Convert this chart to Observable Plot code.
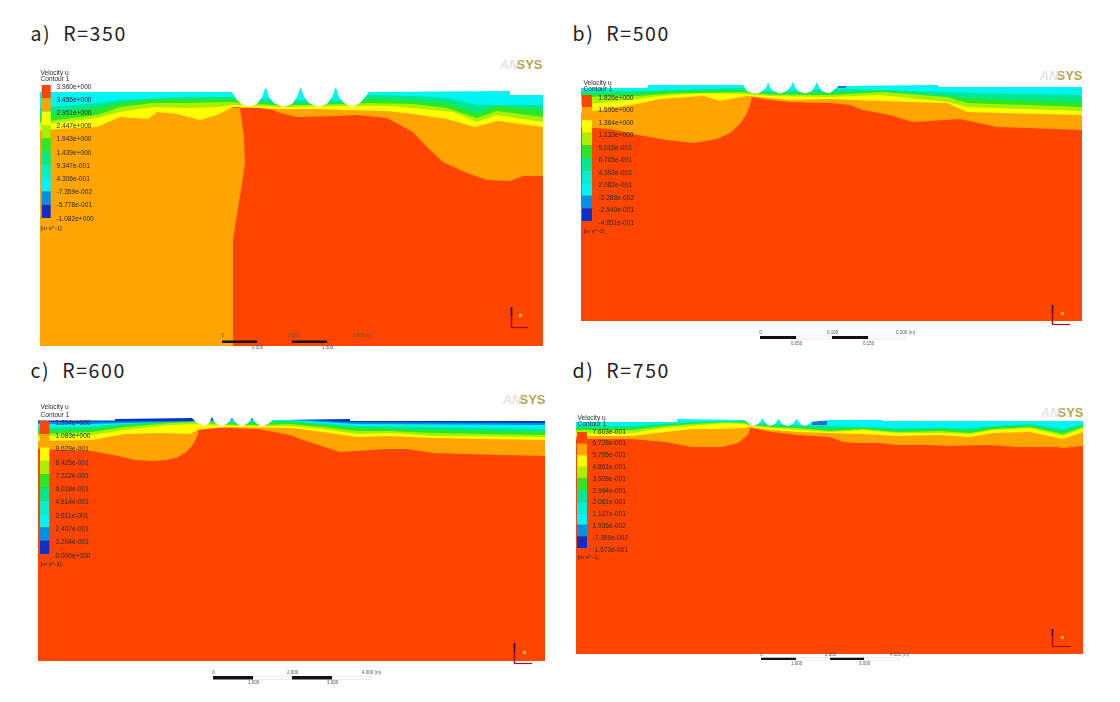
<!DOCTYPE html>
<html><head><meta charset="utf-8">
<script src="https://cdn.jsdelivr.net/npm/d3@7"></script>
<script src="https://cdn.jsdelivr.net/npm/@observablehq/plot@0.6"></script>
<style>
html,body{margin:0;padding:0;background:#fff;overflow:hidden}
svg{display:block}
g.field{filter:blur(.7px)}
g.legendtext{filter:blur(.45px)}
g.logotext{filter:blur(.7px)}
g.faint{filter:blur(.5px)}
g.instrument{filter:blur(.5px)}
g.ptitle{letter-spacing:1.6px}
</style></head><body><div id="chart"></div>
<script>
const RED="#ff4500",ORANGE="#ffa500",YELLOW="#ffff00",YG="#a8f000",GREEN="#28e828",SPRING="#00e890",AQUA="#00f0d0",CYAN="#00f4f4",BLUE="#0090e8",DARK="#0a30c8";
const binColors=[RED,ORANGE,YELLOW,YG,GREEN,SPRING,AQUA,CYAN,BLUE,DARK];

// ---- panel a) R=350 : contour boundaries
const aSurface=[[40,92],[232,92],[237,100],[243,105],[250,106.5],[257,104],[262,97],[265.7,87],[269,97],[274,103],[283,107],[292,104],[297,97],[300.7,87],[304,97],[309,103],[318,107],[327,104],[332,97],[335.7,87],[339,97],[344,103],[352,107],[360,103],[365,97],[369,92],[510,91],[510,95],[543,95]];
const aRedTop=[[240,108],[253,107],[273,110],[280,113],[297,117],[340,116],[357,115],[387,118],[413,132],[427,147],[443,162],[467,173],[487,180],[510,181],[523,176],[543,176]];
const aOrangeEdge=[[240,108],[244,137],[245,163],[241,190],[236,220],[233,240],[233,346]];
const aOrangeTop=[[40,130],[97,127],[120,117],[148,119],[157,112],[177,114],[200,120],[217,115],[233,107],[280,109],[313,109],[347,110],[387,111],[413,114],[447,119],[475,127],[497,121],[543,127]];
const aYellowTop=[[40,125],[97,118],[120,112],[153,107],[187,108],[220,107],[233,105],[280,107],[347,106],[390,106],[423,109],[453,112],[477,122],[497,115],[543,122]];
const aYgTop=[[40,122],[97,115],[120,107],[153,103],[187,103],[230,102],[280,105.5],[347,104],[370,103],[413,104],[447,108],[477,118],[497,111],[543,117]];
const aGreenTop=[[40,115],[97,108],[120,103],[153,99],[190,99],[232,99],[280,104],[350,103],[370,99],[413,100],[447,103],[477,113],[497,106],[543,110]];
const aSpringTop=[[40,108],[97,103],[120,100],[190,97],[232,97],[280,100],[350,100],[370,95],[413,96],[447,98],[477,105],[543,105]];
const aTicks=["3.960e+000","3.456e+000","2.951e+000","2.447e+000","1.943e+000","1.439e+000","9.347e-001","4.306e-001","-7.359e-002","-5.778e-001","-1.082e+000"];

// ---- panel b) R=500
const bSurface=[[581,88],[648,88],[648,85],[743,85],[747,91],[752,93],[758,93.5],[764,90],[767,86],[768,82],[770,87],[773,91],[780,93.5],[787,91],[791,86],[793,82],[795,87],[798,91],[805,93.5],[812,91],[815,86],[817,82],[819,87],[822,91],[829,93.5],[834,90],[838,86],[937,85],[940,87],[1082,87]];
const bRedTop=[[581,127],[610,129],[638,135],[667,140],[693,143],[717,139],[730,133],[740,124],[746,115],[750,105],[752,97],[770,100],[790,102],[830,103],[850,105],[863,110],[890,115],[913,122],[960,119],[997,127],[1082,130]];
const bOrangeTop=[[581,113],[637,104],[660,99],[703,96],[720,100.7],[747,96],[770,98],[790,100],[830,99],[880,101],[947,103],[967,112],[1082,115]];
const bYellowTop=[[581,105],[637,99],[660,96],[703,93],[743,94],[770,96],[830,97],[880,95],[947,102],[967,107],[1082,111]];
const bYgTop=[[581,97],[637,96],[670,93.5],[743,92],[770,94.5],[830,95],[883,92],[947,97],[967,103],[1082,107]];
const bGreenTop=[[581,94],[637,93],[670,91],[743,90.5],[770,93],[830,93],[880,90],[963,98],[1082,102]];
const bSpringTop=[[581,91],[637,91],[743,88],[770,91],[840,89],[947,92],[963,93],[1082,95]];
const bPatch=[[838,86],[846,86]];
const bTicks=["1.826e+000","1.595e+000","1.364e+000","1.133e+000","9.016e-001","6.705e-001","4.393e-001","2.082e-001","-2.288e-002","-2.540e-001","-4.851e-001"];

// ---- panel c) R=600
const cSurface=[[38,420.5],[115,420.5],[115,419],[192,418],[197,423],[205,426],[209,423],[212,417],[215,423],[222,426.5],[228,423],[232,418],[236,423],[242,426.5],[248,423],[252,418],[256,423],[262,426.5],[268,424],[273,420],[350,419],[350,421],[545,421]];
const cRedTop=[[38,449],[92,451],[118,456],[135,460],[152,461],[167,460],[178,457],[186,452],[192,446],[196,439],[198,433],[199,427],[225,428],[258,429],[290,435],[303,440],[340,452],[387,449],[407,449],[433,453],[545,456]];
const cOrangeTop=[[38,441],[92,440],[125,434],[163,433],[190,434],[197,430],[225,427],[258,427.5],[290,428],[323,432],[357,437],[390,436],[433,438],[545,440]];
const cYellowTop=[[38,437],[92,435],[125,430],[170,425],[197,424],[225,425.5],[258,426],[290,426],[323,429],[357,434],[390,433],[433,436],[545,437]];
const cYgTop=[[38,434],[92,432],[125,427],[170,423],[197,422],[225,424.5],[258,425],[290,424],[323,427],[357,431],[390,431],[433,433],[545,435]];
const cGreenTop=[[38,431],[92,429],[125,425],[197,421],[225,423.5],[290,422],[357,428],[433,430],[545,432]];
const cSpringTop=[[38,428],[92,426.5],[125,424],[195,420],[225,422],[290,421],[357,426],[545,429]];
const cCyanTop=[[38,424],[92,424],[125,423],[225,420.5],[290,420],[357,424],[545,425]];
const cBlueTop=[[38,422],[115,421.5],[192,421],[225,419],[290,419],[350,422],[545,423]];
const cTicks=["1.204e+000","1.083e+000","9.629e-001","8.425e-001","7.222e-001","6.018e-001","4.814e-001","3.611e-001","2.407e-001","1.204e-001","0.000e+000"];

// ---- panel d) R=750
const dSurface=[[576,422],[677,422],[677,419],[745,420],[749,424],[753,426],[758,424],[761,421],[762,418],[764,421],[767,424.5],[770,426],[775,424],[777,421],[778,419],[780,421],[783,424.5],[788,426],[793,424],[795,421],[796,419],[798,421],[801,424.5],[805,426],[809,424],[812,421.7],[830,420],[882,420],[882,421],[1083,421]];
const dRedTop=[[576,439],[632,439],[665,442],[692,447],[722,447],[738,443],[748,435],[750,428],[772,432],[798,435],[830,437],[843,442],[857,443],[880,443],[897,445],[930,445],[947,446],[987,445],[1017,447],[1057,447],[1063,448],[1083,446]];
const dOrangeTop=[[576,436],[632,436],[665,432],[692,429],[718,429],[745,428],[750,427],[772,430],[798,432],[830,433],[863,434],[897,436],[940,435],[970,437],[993,433],[1030,432],[1063,439],[1083,432]];
const dYellowTop=[[576,433],[632,433],[665,428],[692,426],[725,423],[745,424],[750,426],[772,428],[798,430],[830,432],[863,430],[897,433],[940,433],[970,434],[993,430],[1030,428],[1063,436],[1083,428]];
const dYgTop=[[576,430],[632,430],[665,426],[692,424],[725,422],[745,423],[750,425],[772,427],[798,428],[830,431],[863,429],[897,432],[940,431],[970,433],[993,429],[1030,427],[1063,434],[1083,427]];
const dGreenTop=[[576,428],[632,428],[665,425],[692,423],[745,422],[750,424],[772,426],[798,427],[830,429],[863,428],[897,431],[940,429],[970,431],[993,427],[1030,426],[1063,432],[1083,426]];
const dSpringTop=[[576,426],[632,426],[692,422],[745,421],[750,423],[772,424],[830,426],[897,428],[970,428],[1030,424],[1063,429],[1083,424]];
const dPatch=[[812,421],[827,421]];
const dTicks=["7.603e-001","6.728e-001","5.795e-001","4.861e-001","3.928e-001","2.994e-001","2.061e-001","1.127e-001","1.936e-002","-7.399e-002","-1.673e-001"];

const panels=[
 {title:"a)  R=350",tx:30,ty:34,frame:[40,543,80,346],surface:aSurface,
  layers:[[aRedTop,ORANGE],[aOrangeTop,YELLOW],[aYellowTop,YG],[aYgTop,GREEN],[aGreenTop,SPRING],[aSpringTop,CYAN]],
  edge:aOrangeEdge,patch:null,patchDepth:0,
  bar:[41.7,50.7,85,218],labelX:56,labelTop:86,labelBot:218,head:[40,72,78],unitY:228,ticks:aTicks,
  logo:[542,64],
  scale:{x:[222,257,292,327,362],y:[340.5,343],top:335,bot:347,upper:["0","1.000","2.000 (m)"],lower:["0.500","1.500"],white:false},
  triad:{x:[511,528],y:[307,327],dot:[520,315]}},
 {title:"b)  R=500",tx:572,ty:34,frame:[581,1082,78,321],surface:bSurface,
  layers:[[bRedTop,ORANGE],[bOrangeTop,YELLOW],[bYellowTop,YG],[bYgTop,GREEN],[bGreenTop,SPRING],[bSpringTop,CYAN]],
  edge:null,patch:bPatch,patchDepth:2,
  bar:[582,592,95,221],labelX:598,labelTop:97,labelBot:222,head:[583,82,88],unitY:231,ticks:bTicks,
  logo:[1082,75],
  scale:{x:[760,796,832,868,905],y:[336,339],top:332,bot:343,upper:["0","0.100","0.200 (m)"],lower:["0.050","0.150"],white:true},
  triad:{x:[1052,1070],y:[305,324],dot:[1062,313]}},
 {title:"c)  R=600",tx:30,ty:371,frame:[38,545,412,661],surface:cSurface,
  layers:[[cRedTop,ORANGE],[cOrangeTop,YELLOW],[cYellowTop,YG],[cYgTop,GREEN],[cGreenTop,SPRING],[cSpringTop,CYAN],[cCyanTop,BLUE],[cBlueTop,DARK]],
  edge:null,patch:null,patchDepth:0,
  bar:[40,49.3,421,554],labelX:55,labelTop:422,labelBot:555,head:[40,406,414],unitY:564,ticks:cTicks,
  logo:[545,399],
  scale:{x:[213,253,292,332,371],y:[676,679.5],top:672,bot:682,upper:["0","2.000","4.000 (m)"],lower:["1.000","3.000"],white:true},
  triad:{x:[514,532],y:[643,663],dot:[524,652]}},
 {title:"d)  R=750",tx:572,ty:371,frame:[576,1083,412,654],surface:dSurface,
  layers:[[dRedTop,ORANGE],[dOrangeTop,YELLOW],[dYellowTop,YG],[dYgTop,GREEN],[dGreenTop,SPRING],[dSpringTop,CYAN]],
  edge:null,patch:dPatch,patchDepth:4,
  bar:[577,587,432,548],labelX:592,labelTop:431,labelBot:549,head:[577,417,423],unitY:557,ticks:dTicks,
  logo:[1083,412],
  scale:{x:[761,796,830,864,899],y:[657.7,660],top:654,bot:663,upper:["0","2.000","4.000 (m)"],lower:["1.000","3.000"],white:true},
  triad:{x:[1052,1071],y:[629,646],dot:[1062,637]}}
];

const X=d=>d[0],Y=d=>d[1];
const SANS="Liberation Sans, Arial, sans-serif";

function panelMarks(p){
  const [x0,x1,ceil,floor]=p.frame;
  const m=[];
  m.push(Plot.rect([p.frame],{x1:d=>d[0],x2:d=>d[1],y1:d=>d[2],y2:d=>d[3],fill:RED,className:"field"}));
  if(p.edge) m.push(Plot.areaX(p.edge,{y:Y,x1:x0,x2:X,fill:ORANGE,className:"field"}));
  for(const [line,fill] of p.layers)
    m.push(Plot.areaY(line,{x:X,y1:ceil,y2:Y,fill,className:"field"}));
  if(p.patch) m.push(Plot.areaY(p.patch,{x:X,y1:Y,y2:d=>d[1]+p.patchDepth,fill:"#2070e0",className:"field"}));
  m.push(Plot.areaY(p.surface,{x:X,y1:ceil-1,y2:Y,fill:"#fff",className:"field"}));
  // legend colour bins
  const [bx0,bx1,by0,by1]=p.bar, h=(by1-by0)/binColors.length;
  m.push(Plot.rect(binColors,{x1:bx0,x2:bx1,y1:(d,i)=>by0+i*h,y2:(d,i)=>by0+(i+1)*h,fill:d=>d,className:"field"}));
  // legend labels
  const step=(p.labelBot-p.labelTop)/(p.ticks.length-1);
  const small={textAnchor:"start",fontFamily:SANS,fill:"#2b2b2b",className:"legendtext"};
  m.push(Plot.text(p.ticks,{x:p.labelX,y:(d,i)=>p.labelTop+i*step,text:d=>d,fontSize:6.6,...small}));
  m.push(Plot.text(["Velocity u"],{x:p.head[0],y:p.head[1],text:d=>d,fontSize:6.6,...small}));
  m.push(Plot.text(["Contour 1"],{x:p.head[0],y:p.head[2],text:d=>d,fontSize:6.6,...small}));
  m.push(Plot.text(["[m s^-1]"],{x:p.head[0],y:p.unitY,text:d=>d,fontSize:6,...small}));
  // logo
  m.push(Plot.text(["SYS"],{x:p.logo[0],y:p.logo[1],text:d=>d,textAnchor:"end",fontSize:13,fontWeight:"bold",fontFamily:SANS,fill:"#b9a24e",className:"logotext"}));
  m.push(Plot.text(["AN"],{x:p.logo[0]-24,y:p.logo[1],text:d=>d,textAnchor:"end",fontSize:13,fontWeight:"bold",fontStyle:"italic",fontFamily:SANS,fill:"#e2e2e2",className:"logotext"}));
  // scale bar
  const s=p.scale;
  if(s.white) m.push(Plot.rect([1,3],{x1:i=>s.x[i],x2:i=>s.x[i+1],y1:s.y[0],y2:s.y[1],fill:"#fff",stroke:"#ddd",strokeWidth:.6,className:"instrument"}));
  m.push(Plot.rect([0,2],{x1:i=>s.x[i],x2:i=>s.x[i+1],y1:s.y[0],y2:s.y[1],fill:"#111",className:"instrument"}));
  m.push(Plot.text(s.upper,{x:(d,i)=>s.x[i*2],y:s.top,text:d=>d,fontSize:4.5,fontFamily:SANS,fill:"#555",className:"faint"}));
  m.push(Plot.text(s.lower,{x:(d,i)=>s.x[i*2+1],y:s.bot,text:d=>d,fontSize:4.5,fontFamily:SANS,fill:"#555",className:"faint"}));
  // coordinate triad
  const t=p.triad;
  m.push(Plot.ruleX([t.x[0]],{y1:t.y[0]+(t.y[1]-t.y[0])*.45,y2:t.y[1],stroke:"#a01020",strokeWidth:1.6,className:"instrument"}));
  m.push(Plot.ruleX([t.x[0]],{y1:t.y[0],y2:t.y[0]+(t.y[1]-t.y[0])*.45,stroke:"#301060",strokeWidth:1.8,className:"instrument"}));
  m.push(Plot.ruleY([t.y[1]],{x1:t.x[0],x2:t.x[1],stroke:"#a01020",strokeWidth:1.2,className:"instrument"}));
  m.push(Plot.dot([t.dot],{x:X,y:Y,r:1.8,fill:"#f0b040",className:"instrument"}));
  // panel title
  m.push(Plot.text([p.title],{x:p.tx,y:p.ty,text:d=>d,textAnchor:"start",fontSize:19.5,fontFamily:"Noto Sans CJK KR, Noto Sans, sans-serif",fill:"#222",className:"ptitle"}));
  return m;
}

const svg=Plot.plot({
  width:1120,height:702,margin:0,
  style:{background:"#fff"},
  x:{domain:[0,1120],range:[0,1120],axis:null},
  y:{domain:[0,702],range:[0,702],axis:null},
  marks:panels.flatMap(panelMarks)
});
document.getElementById("chart").append(svg);
</script></body></html>
